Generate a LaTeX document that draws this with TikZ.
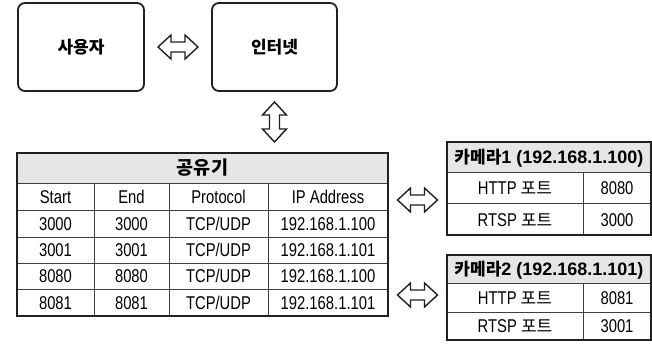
\documentclass[tikz,border=0pt]{standalone}
\usepackage{fontspec}
\setmainfont{Liberation Sans}[FakeStretch=0.8]
\newfontfamily\widefont{Liberation Sans}
\newfontfamily\kr{Noto Sans CJK KR}
\newcommand\krtext[1]{{\kr\fontsize{17}{18}\selectfont #1}}
\usetikzlibrary{calc}
\definecolor{ink}{HTML}{231F20}
\definecolor{hdrfill}{HTML}{E6E6E6}
\definecolor{gridc}{HTML}{404040}
\tikzset{
  roundbox/.style={draw=ink, line width=1.8pt, rounded corners=7pt, minimum width=126pt, minimum height=88pt, inner sep=0pt, font=\kr\bfseries\fontsize{17}{18}\selectfont},
  frame/.style={draw=ink, line width=1.8pt, inner sep=0pt},
  cell/.style={inner sep=0pt, text height=13pt, text depth=0pt, font=\fontsize{18.5}{20}\selectfont},
  hcell/.style={inner sep=0pt, text height=13pt, text depth=0pt, font=\widefont\bfseries\fontsize{18}{20}\selectfont},
  grid/.style={draw=gridc, line width=1pt},
  arrowline/.style={draw=ink, line width=1.4pt, fill=white, line join=miter},
  blockarrow/.pic={\path[arrowline] (-20,0) -- (-7,-12) -- (-7,-5) -- (7,-5) -- (7,-12) -- (20,0) -- (7,12) -- (7,5) -- (-7,5) -- (-7,12) -- cycle;}
}
\begin{document}
\begin{tikzpicture}[x=1pt, y=-1pt]
\useasboundingbox[fill=white] (0,0) rectangle (652,347);

% top boxes
\node[roundbox] (user) at (81,47) {사용자};
\node[roundbox, minimum width=125pt] (net) at (274.5,47) {인터넷};

% router table
\fill[hdrfill] (17,153) rectangle (388,184);
\foreach \y in {184,210,237,263,289} \draw[grid] (17,\y) -- (388,\y);
\foreach \x in {94,169,268} \draw[grid] (\x,184) -- (\x,316);
\node[frame, minimum width=371pt, minimum height=163pt] (router) at (202.5,234.5) {};
\node[hcell] (routerhead) at (202.5,168.5) {\kr\fontsize{18.5}{20}\selectfont 공유기};
\foreach \x/\t [count=\j] in {55.5/Start, 131.5/End, 218.5/Protocol, 328/IP Address}
  \node[cell] (rh\j) at (\x,197) {\t};
\foreach \y/\a/\d [count=\i] in {223.5/3000/192.168.1.100, 250/3001/192.168.1.101, 276/8080/192.168.1.100, 302.5/8081/192.168.1.101} {
  \node[cell] (rs\i) at (55.5,\y) {\a};
  \node[cell] (re\i) at (131.5,\y) {\a};
  \node[cell] (rp\i) at (218.5,\y) {TCP/UDP};
  \node[cell] (ri\i) at (328,\y) {\d};
}

% camera 1 table
\fill[hdrfill] (447,142) rectangle (651,173);
\foreach \y in {173,204} \draw[grid] (447,\y) -- (651,\y);
\draw[grid] (583,173) -- (583,235);
\node[frame, minimum width=204pt, minimum height=93pt] (cam1) at (549,188.5) {};
\node[hcell] (cam1head) at (549,157.5) {{\kr\fontsize{17}{20}\selectfont 카메라}1 (192.168.1.100)};
\node[cell] (c1h) at (515,188.5) {HTTP \krtext{포트}};
\node[cell] (c1hv) at (617,188.5) {8080};
\node[cell] (c1r) at (515,219.5) {RTSP \krtext{포트}};
\node[cell] (c1rv) at (617,219.5) {3000};

% camera 2 table
\fill[hdrfill] (447,255) rectangle (651,283);
\foreach \y in {283,312} \draw[grid] (447,\y) -- (651,\y);
\draw[grid] (583,283) -- (583,340);
\node[frame, minimum width=204pt, minimum height=85pt] (cam2) at (549,297.5) {};
\node[hcell] (cam2head) at (549,269) {{\kr\fontsize{17}{20}\selectfont 카메라}2 (192.168.1.101)};
\node[cell] (c2h) at (515,297.5) {HTTP \krtext{포트}};
\node[cell] (c2hv) at (617,297.5) {8081};
\node[cell] (c2r) at (515,326) {RTSP \krtext{포트}};
\node[cell] (c2rv) at (617,326) {3001};

% block arrows
\pic at ($(user.east)!0.5!(net.west)$) {blockarrow};
\pic[rotate=90] at ($(net.south)!0.5!(net.south |- router.north)$) {blockarrow};
\pic at ($(router.east |- 0,200)!0.5!(cam1.west |- 0,200)$) {blockarrow};
\pic at ($(router.east |- 0,295)!0.5!(cam2.west |- 0,295)$) {blockarrow};
\end{tikzpicture}
\end{document}
